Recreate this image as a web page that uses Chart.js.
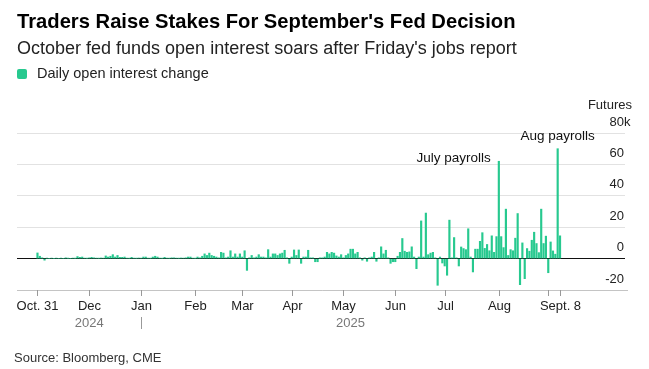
<!DOCTYPE html>
<html lang="en">
<head>
  <meta charset="UTF-8">
  <title>Traders Raise Stakes For September's Fed Decision</title>
  <script src="https://cdn.jsdelivr.net/npm/chart.js"></script>
  <style>
    html, body {
      margin: 0;
      padding: 0;
      background: #fff;
    }
    body {
      width: 649px;
      height: 369px;
      position: relative;
      overflow: hidden;
      font-family: 'Liberation Sans', Arial, sans-serif;
      color: #111;
    }
    .txt {
      position: absolute;
      white-space: nowrap;
      z-index: 2;
    }
    .title {
      left: 17px;
      top: 11px;
      font-size: 20.2px;
      line-height: 20px;
      font-weight: bold;
      color: #000;
    }
    .subtitle {
      left: 17px;
      top: 39px;
      font-size: 18px;
      line-height: 18px;
      color: #222;
    }
    .legend {
      left: 17px;
      top: 66px;
      font-size: 14.5px;
      line-height: 14.5px;
      color: #222;
    }
    .legend .box {
      display: inline-block;
      width: 10px;
      height: 10px;
      border-radius: 2px;
      background: #27c98f;
      margin-right: 10px;
      vertical-align: -1px;
    }
    .source {
      left: 14px;
      top: 351px;
      font-size: 13px;
      line-height: 13px;
      color: #333;
    }
    #chart {
      position: absolute;
      left: 0;
      top: 0;
      z-index: 1;
    }
  </style>
</head>
<body>
  <div class="txt title">Traders Raise Stakes For September's Fed Decision</div>
  <div class="txt subtitle">October fed funds open interest soars after Friday's jobs report</div>
  <div class="txt legend"><span class="box"></span>Daily open interest change</div>
  <canvas id="chart" width="649" height="369"></canvas>
  <div class="txt source">Source: Bloomberg, CME</div>

  <script>
    // one bar per weekday, first and last day of the series
    const firstDay = '2024-10-31';
    const lastDay = '2025-09-08';

    // daily change in open interest, thousands of futures
    const oiChange = [
      3.6,
      1.5, 0.5, -1, 0.3, 0, 0.3, 0, 0.3, 0, 0.3, 0, 0.5, 0.2, 0, 0.3, 0.2, 1.3, 0.8, 1, 0.3, 0.2,
      0.5, 0.8, 0.5, 0.3, 0.2, 0.4, 0.3, 1.7, 1, 1.5, 2.5, 1, 2, 0.8, 0.8, 1, 0.3, 0.2, 0.8, 0.3, 0.2, 0.4,
      0.3, 1, 1, 0.3, 0.2, 1, 1.5, 1, 0.3, 0.2, 0.8, 0.3, 0.2, 0.5, 0.5, 0.3, 0.2, 0.4, 0.3, 0.5, 1, 1, 0.3,
      0.2, 1, 0.5, 1.5, 3, 2, 3.5, 2, 1.5, 1, 0.5, 4, 3.5, 0.5, 1, 5, 1, 3, 1, 3,
      1, 5, -7.5, 0.5, 2, 0.5, 1, 2.5, 1, 1, 0.5, 5.7, 1, 3, 3, 2, 3, 3.5, 5.3, 0.5, -3,
      1, 5.5, 2, 5.5, -3, 1, 1, 5.3, 0.5, 0.5, -2, -2, 0.5, 0.5, 1, 4, 3, 4, 3.5, 1.7, 1, 2.5,
      0.5, 2, 3, 6, 6, 3, 4, 0.5, -1, 0.5, -1.7, 0.5, 1, 4, -1.7, 0.5, 7.5, 3, 5.3, 0.5, -3, -2,
      -2, 1.5, 4, 12.8, 4.7, 4, 4.3, 7.5, 1, -6.4, 1, 24, 1, 29, 2.5, 3.5, 4, 0.5, -17, 1, -2.8,
      -4.7, -10.6, 24.5, 0.5, 13.4, 0.5, -4.7, 7.4, 6.4, 5.7, 19, 1, -8.5, 6, 6, 11, 16.5, 6.5, 9, 5, 14.5, 4, 14,
      62, 14, 7, 31.5, 2, 5.7, 5, 13, 28.7, -16.6, 10, -12.8, 6.4, 4.7, 11.7, 16.8, 9.6, 3.8, 31.5, 9.6, 14.3,
      -9, 10.6, 4.9, 2.8, 70, 14.5
    ];

    const yTicks = [-20, 0, 20, 40, 60, 80];
    const xTickDates = ['2024-10-31', '2024-12-02', '2025-01-01', '2025-02-03', '2025-03-03', '2025-04-01',
                        '2025-05-01', '2025-06-02', '2025-07-01', '2025-08-01', '2025-09-01', '2025-09-08'];
    const xTickLabels = ['Oct. 31', 'Dec', 'Jan', 'Feb', 'Mar', 'Apr', 'May', 'Jun', 'Jul', 'Aug', '', 'Sept. 8'];
    const years = ['2024', '2025'];
    const notes = [
      { date: '2025-08-01', text: 'July payrolls' },
      { date: '2025-09-05', text: 'Aug payrolls' }
    ];

    const green = '#27c98f';
    const font = '"Liberation Sans", Arial, sans-serif';

    // weekday categories
    const dates = [];
    const end = new Date(lastDay + 'T00:00:00Z');
    for (let d = new Date(firstDay + 'T00:00:00Z'); d <= end; d.setUTCDate(d.getUTCDate() + 1)) {
      const wd = d.getUTCDay();
      if (wd !== 0 && wd !== 6) dates.push(d.toISOString().slice(0, 10));
    }

    const points = oiChange.map((v, i) => ({ x: i, y: v }));

    const axisText = {
      id: 'axisText',
      afterDraw(chart) {
        const { ctx, chartArea, scales: { x, y } } = chart;
        ctx.save();

        // bottom axis line
        ctx.strokeStyle = '#c4c4c4';
        ctx.lineWidth = 1;
        ctx.beginPath();
        ctx.moveTo(chartArea.left, chartArea.bottom + 0.5);
        ctx.lineTo(628, chartArea.bottom + 0.5);
        ctx.stroke();

        // y labels, right side, above the grid lines
        ctx.font = '13px ' + font;
        ctx.fillStyle = '#222';
        ctx.textBaseline = 'middle';
        ctx.textAlign = 'right';
        yTicks.forEach(v => {
          ctx.fillText(String(v), 624, y.getPixelForValue(v) - 11);
        });
        ctx.textAlign = 'left';
        ctx.fillText('k', 624, y.getPixelForValue(80) - 11);
        ctx.textAlign = 'right';
        ctx.fillText('Futures', 632, y.getPixelForValue(80) - 28);

        // x ticks and labels
        ctx.strokeStyle = '#999';
        ctx.textAlign = 'center';
        xTickDates.forEach((d, k) => {
          const px = Math.round(x.getPixelForValue(dates.indexOf(d))) + 0.5;
          ctx.beginPath();
          ctx.moveTo(px, chartArea.bottom);
          ctx.lineTo(px, chartArea.bottom + 6);
          ctx.stroke();
          if (xTickLabels[k]) ctx.fillText(xTickLabels[k], px, 306);
        });

        // year labels and divider
        const x0 = x.getPixelForValue(0);
        const xJan = x.getPixelForValue(dates.indexOf('2025-01-01'));
        const xEnd = x.getPixelForValue(dates.length - 1);
        ctx.fillStyle = '#777';
        ctx.fillText(years[0], (x0 + xJan) / 2, 323);
        ctx.fillText(years[1], (xJan + xEnd) / 2, 323);
        ctx.beginPath();
        ctx.moveTo(Math.round(xJan) + 0.5, 317);
        ctx.lineTo(Math.round(xJan) + 0.5, 329);
        ctx.stroke();

        // payroll notes
        ctx.fillStyle = '#111';
        ctx.font = '13.5px ' + font;
        const i1 = dates.indexOf(notes[0].date);
        ctx.textAlign = 'right';
        ctx.fillText(notes[0].text, x.getPixelForValue(i1) - 8, y.getPixelForValue(oiChange[i1]) - 3);
        const i2 = dates.indexOf(notes[1].date);
        ctx.textAlign = 'center';
        ctx.fillText(notes[1].text, x.getPixelForValue(i2), y.getPixelForValue(oiChange[i2]) - 12);

        ctx.restore();
      }
    };

    new Chart(document.getElementById('chart'), {
      type: 'bar',
      data: {
        datasets: [{
          label: 'Daily open interest change',
          data: points,
          backgroundColor: green,
          borderWidth: 0,
          barThickness: 1.5
        }]
      },
      options: {
        responsive: false,
        animation: false,
        devicePixelRatio: 1,
        layout: { padding: { left: 17, right: 24, top: 133, bottom: 79 } },
        scales: {
          x: {
            type: 'linear',
            min: -8.7,
            max: 249.6,
            offset: false,
            display: false
          },
          y: {
            min: -20,
            max: 80,
            afterFit: s => { s.width = 0; },
            ticks: { display: false, stepSize: 20 },
            border: { display: false },
            grid: {
              drawTicks: false,
              color: c => c.tick.value === 0 ? '#111' : '#e2e2e2'
            }
          }
        },
        plugins: {
          legend: { display: false },
          tooltip: { enabled: false }
        }
      },
      plugins: [axisText]
    });
  </script>
</body>
</html>
